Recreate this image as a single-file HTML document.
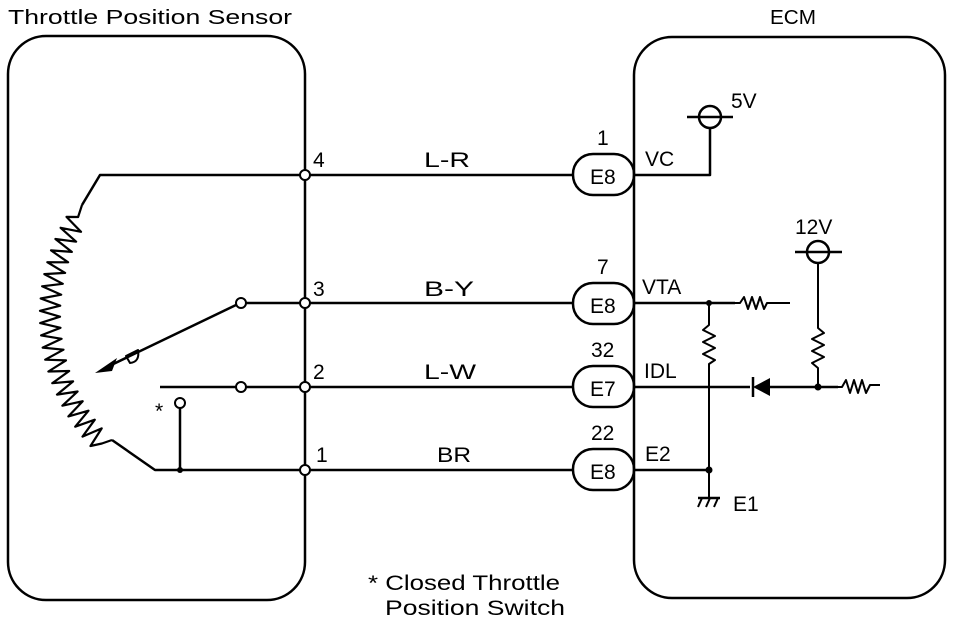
<!DOCTYPE html>
<html><head><meta charset="utf-8"><style>
html,body{margin:0;padding:0;background:#fff;}
svg{display:block;}
text{font-family:"Liberation Sans",sans-serif;fill:#000;}
</style></head><body>
<svg id="s" width="960" height="626" viewBox="0 0 960 626" xmlns="http://www.w3.org/2000/svg">
<g fill="none" stroke="#000" stroke-width="2.5" stroke-linejoin="round">
<rect x="8" y="36" width="297" height="564" rx="38"/>
<rect x="634" y="37" width="311" height="561" rx="38"/>
<line x1="305" y1="175" x2="573" y2="175"/>
<line x1="305" y1="303" x2="573" y2="303"/>
<line x1="305" y1="387" x2="573" y2="387"/>
<line x1="305" y1="470" x2="573" y2="470"/>
<rect x="573" y="154" width="61" height="41" rx="20"/>
<rect x="573" y="283" width="61" height="41" rx="20"/>
<rect x="573" y="366" width="61" height="41" rx="20"/>
<rect x="573" y="449" width="61" height="41" rx="20"/>
<polyline points="305,175 100,175 82,205"/>
<path id="zz"/>
<polyline points="112,440 155,470 305,470"/>
<line x1="305" y1="303" x2="246" y2="303"/>
<line x1="236" y1="305" x2="105" y2="368"/>
<line x1="160" y1="387" x2="236" y2="387"/>
<line x1="246" y1="387" x2="305" y2="387"/>
<line x1="180" y1="408" x2="180" y2="470"/>
<path d="M126,356 L138,350 Q140,362 130,363 Z" stroke-width="2"/>
<polyline points="634,175 710,175 710,129"/>
<circle cx="710" cy="117" r="11"/>
<line x1="687" y1="117" x2="733" y2="117"/>
<line x1="634" y1="303" x2="735" y2="303"/>
<polyline points="735,303 740,303 744,297 748,309 752,297 756,309 760,297 764,309 767,303 790,303" stroke-width="2"/>
<polyline points="709,303 709,325 703,330 715,336 703,342 715,348 703,354 715,360 709,364 709,498" stroke-width="2"/>
<line x1="634" y1="387" x2="750" y2="387"/>
<line x1="770" y1="387" x2="838" y2="387"/>
<polyline points="838,387 842,387 846,380 850,393 854,380 858,393 862,380 866,393 870,385 880,385" stroke-width="2"/>
<circle cx="818" cy="252" r="11"/>
<line x1="795" y1="252" x2="842" y2="252"/>
<polyline points="818,263 818,328 824,333 812,339 824,345 812,351 824,357 812,363 818,368 818,387" stroke-width="2"/>
<line x1="634" y1="470" x2="709" y2="470"/>
<line x1="698" y1="498" x2="720" y2="498"/>
<line x1="702" y1="498" x2="698" y2="507" stroke-width="2"/>
<line x1="710" y1="498" x2="706" y2="507" stroke-width="2"/>
<line x1="718" y1="498" x2="714" y2="507" stroke-width="2"/>
<line x1="753" y1="377" x2="753" y2="397"/>
</g>
<g fill="#000">
<polygon points="753,387 770,378 770,396"/>
<polygon points="95,373 117,358 112,371"/>
<circle cx="709" cy="303" r="3"/><circle cx="709" cy="470" r="3.5"/><circle cx="818" cy="387" r="3.5"/><circle cx="180" cy="470" r="3"/>
</g>
<g fill="#fff" stroke="#000" stroke-width="2">
<circle cx="305" cy="175" r="5"/><circle cx="305" cy="303" r="5"/><circle cx="305" cy="387" r="5"/><circle cx="305" cy="470" r="5"/>
<circle cx="241" cy="303" r="5"/><circle cx="241" cy="387" r="5"/><circle cx="180" cy="403" r="5"/>
</g>
<g font-size="21">
<text x="8" y="24" font-size="20" textLength="284" lengthAdjust="spacingAndGlyphs">Throttle Position Sensor</text>
<text x="770" y="24" font-size="20" textLength="46" lengthAdjust="spacingAndGlyphs">ECM</text>
<text x="313" y="167">4</text><text x="313" y="296">3</text><text x="313" y="379">2</text><text x="316" y="462">1</text>
<text x="424" y="167" textLength="46" lengthAdjust="spacingAndGlyphs">L-R</text>
<text x="424" y="296" textLength="50" lengthAdjust="spacingAndGlyphs">B-Y</text>
<text x="424" y="379" textLength="52" lengthAdjust="spacingAndGlyphs">L-W</text>
<text x="437" y="462" textLength="34" lengthAdjust="spacingAndGlyphs">BR</text>
<text x="597" y="145">1</text><text x="597" y="274">7</text><text x="591" y="357">32</text><text x="591" y="440">22</text>
<text x="590" y="184">E8</text><text x="590" y="313">E8</text><text x="590" y="396">E7</text><text x="590" y="479">E8</text>
<text x="645" y="166">VC</text><text x="642" y="294">VTA</text><text x="644" y="378">IDL</text><text x="645" y="461">E2</text>
<text x="731" y="108">5V</text><text x="795" y="234">12V</text><text x="733" y="511">E1</text>
<text x="155" y="418">*</text>
<text x="368" y="590" textLength="192" lengthAdjust="spacingAndGlyphs">* Closed Throttle</text>
<text x="385" y="615" textLength="180" lengthAdjust="spacingAndGlyphs">Position Switch</text>
</g>
</svg>
<script>
(function(){
var cx=235,cy=315,r=185,a0=212*Math.PI/180,a1=136*Math.PI/180,n=42,d="";
for(var i=0;i<=n;i++){var a=a0+(a1-a0)*i/n;var rr=r+(i==0||i==n?0:(i%2?10:-10));
var x=cx+rr*Math.cos(a),y=cy+rr*Math.sin(a);d+=(i?"L":"")+x.toFixed(1)+","+y.toFixed(1);}
var p=document.getElementById("zz");p.setAttribute("d","M82,205 L"+d+" L112,440");p.setAttribute("stroke-width","2.2");
})();
</script>
</body></html>
